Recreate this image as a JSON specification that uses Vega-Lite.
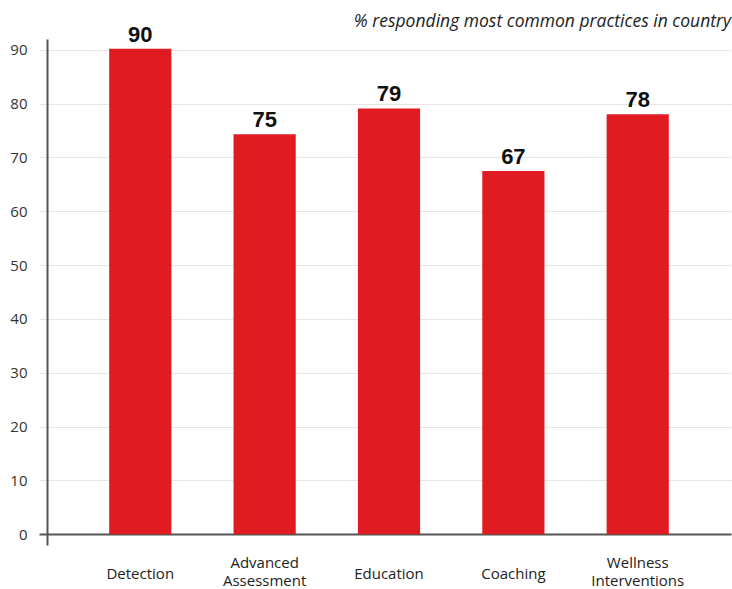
{
  "$schema": "https://vega.github.io/schema/vega-lite/v6.json",
  "width": 684,
  "height": 506,
  "autosize": {"type": "none"},
  "padding": {"left": 47, "top": 39, "right": 1, "bottom": 44},
  "background": "white",
  "title": {
    "text": "% responding most common practices in country",
    "anchor": "end",
    "font": "Open Sans",
    "fontStyle": "italic",
    "fontWeight": "normal",
    "fontSize": 17.5,
    "color": "#222",
    "offset": -7
  },
  "data": {
    "values": [
      {"practice": "Detection", "value": 90.2, "label": "90"},
      {"practice": "Advanced Assessment", "value": 74.3, "label": "75"},
      {"practice": "Education", "value": 79.1, "label": "79"},
      {"practice": "Coaching", "value": 67.5, "label": "67"},
      {"practice": "Wellness Interventions", "value": 78.0, "label": "78"}
    ]
  },
  "encoding": {
    "x": {
      "field": "practice",
      "type": "nominal",
      "sort": null,
      "scale": {"paddingInner": 0.5, "paddingOuter": 0.5},
      "axis": {
        "title": null,
        "domain": false,
        "ticks": false,
        "labelAngle": 0,
        "labelFont": "Open Sans",
        "labelFontSize": 15,
        "labelColor": "#222",
        "labelPadding": {"condition": {"test": "indexof(datum.label, ' ') > 0", "value": 17}, "value": 28},
        "labelBaseline": "middle",
        "labelLineHeight": 18,
        "labelExpr": "indexof(datum.label, ' ') > 0 ? split(datum.label, ' ') : datum.label"
      }
    },
    "y": {
      "field": "value",
      "type": "quantitative",
      "scale": {"domain": [-2, 92], "nice": false, "zero": false},
      "axis": {
        "title": null,
        "values": [0, 10, 20, 30, 40, 50, 60, 70, 80, 90],
        "domainColor": "#555",
        "domainWidth": 2,
        "tickSize": 8,
        "tickColor": {"condition": {"test": "datum.value === 0", "value": "#555"}, "value": "#e6e6e6"},
        "tickWidth": {"condition": {"test": "datum.value === 0", "value": 2}, "value": 1},
        "grid": true,
        "gridColor": {"condition": {"test": "datum.value === 0", "value": "#555"}, "value": "#e6e6e6"},
        "gridWidth": {"condition": {"test": "datum.value === 0", "value": 2}, "value": 1},
        "labelFont": "Open Sans",
        "labelFontSize": 15,
        "labelColor": "#333",
        "labelPadding": 12
      }
    }
  },
  "layer": [
    {
      "mark": {"type": "bar", "color": "#E11B22"},
      "encoding": {"y2": {"datum": 0}}
    },
    {
      "mark": {
        "type": "text",
        "font": "Liberation Sans",
        "fontWeight": "bold",
        "fontSize": 22,
        "color": "#111",
        "baseline": "alphabetic",
        "dy": -7
      },
      "encoding": {"text": {"field": "label"}}
    }
  ],
  "config": {"view": {"stroke": null}}
}
